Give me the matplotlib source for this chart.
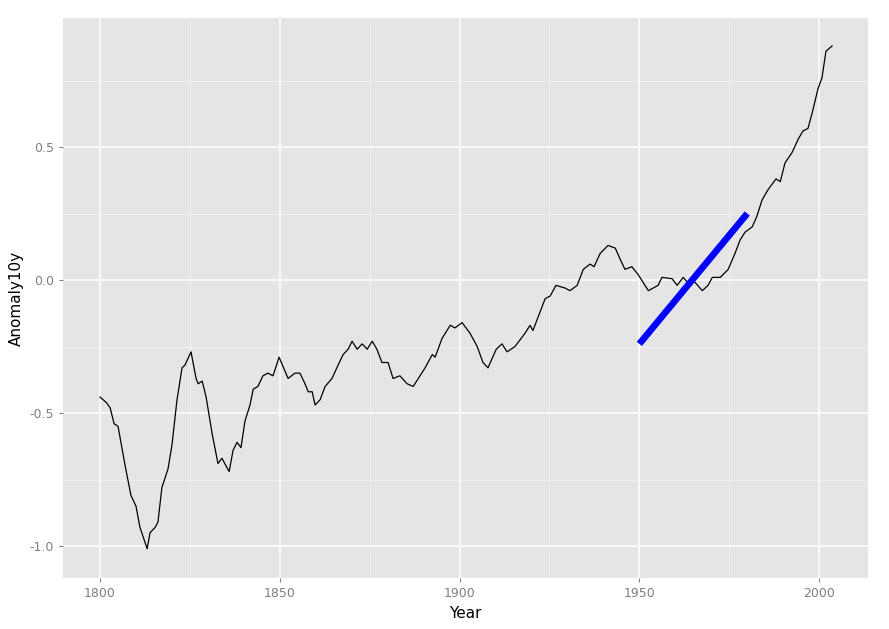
import matplotlib
matplotlib.use("Agg")
import matplotlib.pyplot as plt

# 10-year smoothed anomaly
years = [1800, 1801.7, 1802.8, 1803.9, 1805, 1807, 1808.6, 1810, 1811.1, 1813.1, 1813.9,
         1815.3, 1816.1, 1817.2, 1818.9, 1820, 1821.4, 1822.8, 1823.6, 1825.3, 1826.7,
         1827.3, 1828.4, 1829.5, 1831.2, 1832.8, 1833.9, 1835.9, 1837, 1838.1, 1839.2,
         1840.3, 1841.7, 1842.6, 1843.9, 1845.3, 1846.7, 1848.1, 1849.8, 1852.3, 1854.2,
         1855.6, 1857, 1857.9, 1859, 1859.8, 1861.2, 1862.6, 1864.5, 1866.2, 1867.6,
         1869, 1870.1, 1871.5, 1872.9, 1874.3, 1875.7, 1877, 1878.4, 1880.1, 1881.5,
         1883.4, 1885.4, 1887.1, 1888.5, 1890.4, 1892.4, 1893.2, 1895.1, 1897.4, 1898.7,
         1900.7, 1902.9, 1904.9, 1906.5, 1907.9, 1910.2, 1911.8, 1913.2, 1915.4, 1918.2,
         1919.6, 1920.4, 1922.4, 1923.8, 1925.2, 1926.8, 1929.3, 1930.7, 1932.7, 1934.4,
         1936.3, 1937.4, 1939.1, 1941.3, 1943.3, 1944.6, 1946, 1947.9, 1949.7, 1952.5,
         1955.2, 1956.3, 1959.1, 1960.5, 1962.2, 1964.1, 1964.9, 1967.5, 1969.1, 1970.3,
         1972.5, 1974.7, 1976.6, 1978, 1979.4, 1981.4, 1982.7, 1984.1, 1985.8, 1986.9,
         1988, 1989.2, 1990.5, 1992.5, 1994.2, 1995.5, 1996.9, 1998.1, 1999.7, 2000.8,
         2001.9, 2003.6]
anomaly = [-0.44, -0.46, -0.48, -0.54, -0.55, -0.70, -0.81, -0.85, -0.93, -1.01, -0.95,
           -0.93, -0.91, -0.78, -0.71, -0.62, -0.45, -0.33, -0.32, -0.27, -0.37,
           -0.39, -0.38, -0.44, -0.58, -0.69, -0.67, -0.72, -0.64, -0.61, -0.63,
           -0.53, -0.47, -0.41, -0.40, -0.36, -0.35, -0.36, -0.29, -0.37, -0.35,
           -0.35, -0.39, -0.42, -0.42, -0.47, -0.45, -0.40, -0.37, -0.32, -0.28,
           -0.26, -0.23, -0.26, -0.24, -0.26, -0.23, -0.26, -0.31, -0.31, -0.37,
           -0.36, -0.39, -0.40, -0.37, -0.33, -0.28, -0.29, -0.22, -0.17, -0.18,
           -0.16, -0.20, -0.25, -0.31, -0.33, -0.26, -0.24, -0.27, -0.25, -0.20,
           -0.17, -0.19, -0.12, -0.07, -0.06, -0.02, -0.03, -0.04, -0.02, 0.04,
           0.06, 0.05, 0.10, 0.13, 0.12, 0.08, 0.04, 0.05, 0.02, -0.04,
           -0.02, 0.01, 0.005, -0.02, 0.01, -0.02, 0.0, -0.04, -0.02, 0.01,
           0.01, 0.04, 0.10, 0.15, 0.18, 0.20, 0.24, 0.30, 0.34, 0.36,
           0.38, 0.37, 0.44, 0.48, 0.53, 0.56, 0.57, 0.63, 0.72, 0.76,
           0.86, 0.88]

trend_years = [1950, 1980]
trend_vals = [-0.24, 0.25]

x_ticks = [1800, 1850, 1900, 1950, 2000]
x_minor = [1825, 1875, 1925, 1975]
y_ticks = [-1.0, -0.5, 0.0, 0.5]
y_minor = [-0.75, -0.25, 0.25, 0.75]

fig = plt.figure(figsize=(8.89, 6.29), dpi=100)
ax = fig.add_axes([0.0709, 0.0811, 0.9055, 0.8903])
ax.set_facecolor('#E5E5E5')
for s in ax.spines.values():
    s.set_visible(False)

for v in x_minor:
    ax.axvline(v, color='#F2F2F2', lw=0.6, zorder=0)
for v in y_minor:
    ax.axhline(v, color='#F2F2F2', lw=0.6, zorder=0)
for v in x_ticks:
    ax.axvline(v, color='white', lw=1.1, zorder=0)
for v in y_ticks:
    ax.axhline(v, color='white', lw=1.1, zorder=0)

ax.plot(years, anomaly, color='black', lw=0.9, zorder=2)
ax.plot(trend_years, trend_vals, color='#0000FF', lw=4.8, zorder=3,
        solid_capstyle='butt')

ax.set_xlim(1789.7, 2013.6)
ax.set_ylim(-1.12, 0.985)
ax.set_xticks(x_ticks)
ax.set_yticks(y_ticks)
ax.set_yticklabels(['-1.0', '-0.5', '0.0', '0.5'])
ax.tick_params(colors='#7F7F7F', labelsize=9, length=3)
ax.set_xlabel('Year', fontsize=11)
ax.set_ylabel('Anomaly10y', fontsize=11)

fig.savefig('out.png', dpi=100)
